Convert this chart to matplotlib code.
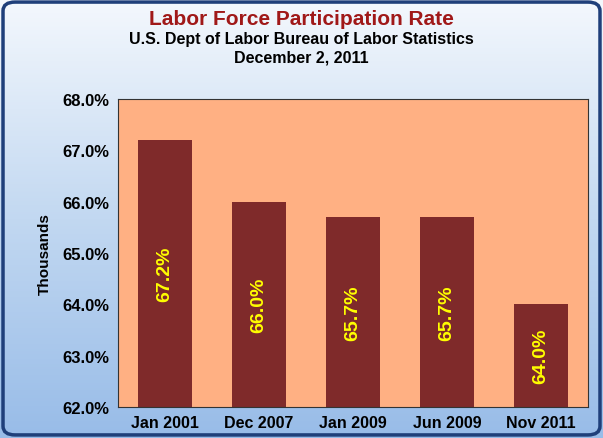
import numpy as np
import matplotlib.pyplot as plt
from matplotlib.patches import FancyBboxPatch

plt.rcParams["font.family"] = "Liberation Sans"

categories = ["Jan 2001", "Dec 2007", "Jan 2009", "Jun 2009", "Nov 2011"]
rates = [67.2, 66.0, 65.7, 65.7, 64.0]
labels = ["67.2%", "66.0%", "65.7%", "65.7%", "64.0%"]
yticks = [62.0, 63.0, 64.0, 65.0, 66.0, 67.0, 68.0]

fig = plt.figure(figsize=(6.03, 4.39), dpi=100)

# gradient background
bg = fig.add_axes([0, 0, 1, 1], zorder=-10)
grad = np.linspace(0, 1, 256).reshape(-1, 1)
bg.imshow(grad, aspect="auto", cmap=plt.matplotlib.colors.LinearSegmentedColormap.from_list(
    "g", ["#f4f8fd", "#c2d8f1", "#98bce8"]), extent=[0, 1, 0, 1], origin="upper")
bg.add_patch(FancyBboxPatch((0.005, 0.007), 0.99, 0.986, boxstyle="round,pad=0,rounding_size=0.02",
                            fill=False, edgecolor="#1f3f7a", linewidth=2.5, transform=bg.transAxes))
bg.set_xlim(0, 1)
bg.set_ylim(0, 1)
bg.axis("off")

ax = fig.add_axes([0.196, 0.071, 0.779, 0.701])
ax.set_facecolor("#ffb083")
x = np.arange(len(categories))
ax.bar(x, rates, width=0.58, bottom=0, color="#7f2a2a")
ax.set_ylim(62, 68)
ax.set_xlim(-0.5, len(categories) - 0.5)
ax.set_yticks(yticks)
ax.set_yticklabels([f"{v:.1f}%" for v in yticks], fontsize=12, fontweight="bold")
ax.set_xticks(x)
ax.set_xticklabels(categories, fontsize=11.5, fontweight="bold")
ax.tick_params(length=0, pad=6)
for s in ax.spines.values():
    s.set_color("#333333")
for xi, r, lab in zip(x, rates, labels):
    ax.text(xi, (62 + r) / 2, lab, rotation=90, ha="center", va="center",
            color="#ffff00", fontsize=14, fontweight="bold")
ax.set_ylabel("Thousands", fontsize=11, fontweight="bold", labelpad=8)

fig.text(0.5, 0.955, "Labor Force Participation Rate", ha="center", va="center",
         fontsize=15, fontweight="bold", color="#a01818")
fig.text(0.5, 0.91, "U.S. Dept of Labor Bureau of Labor Statistics", ha="center", va="center",
         fontsize=11.5, fontweight="bold")
fig.text(0.5, 0.868, "December 2, 2011", ha="center", va="center",
         fontsize=11.5, fontweight="bold")

fig.savefig("out.png", dpi=100)
